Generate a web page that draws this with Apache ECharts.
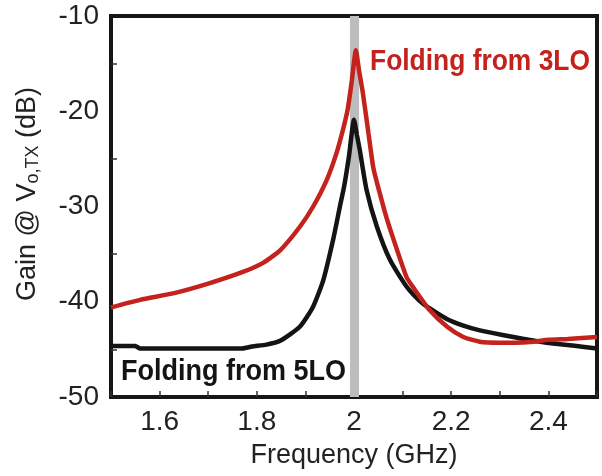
<!DOCTYPE html>
<html>
<head>
<meta charset="utf-8">
<script src="https://cdn.jsdelivr.net/npm/echarts@6/dist/echarts.min.js"></script>
<style>
  html, body { margin: 0; padding: 0; background: #fff; }
  #chart { width: 602px; height: 476px; }
</style>
</head>
<body>
<div id="chart"></div>
<script>
// Folding from 3LO (red): frequency in GHz, gain in dB
const freq3LO = [1.50, 1.56, 1.63, 1.70, 1.77, 1.81, 1.848, 1.889, 1.916, 1.944, 1.964, 1.977, 1.987,
                 1.995, 2.004, 2.010, 2.018, 2.030, 2.040, 2.053, 2.067, 2.081, 2.108, 2.122, 2.156,
                 2.191, 2.225, 2.259, 2.30, 2.33, 2.37, 2.40, 2.44, 2.50];
const gain3LO = [-40.6, -39.8, -39.1, -38.1, -36.9, -36.0, -34.6, -32.1, -30.0, -27.2, -24.4, -22.0, -19.8,
                 -17.0, -13.6, -15.6, -18.0, -22.4, -26.0, -28.6, -31.2, -33.4, -37.4, -38.5, -40.9,
                 -42.6, -43.7, -44.2, -44.3, -44.3, -44.2, -44.0, -43.9, -43.7];

// Folding from 5LO (black)
const freq5LO = [1.50, 1.55, 1.56, 1.77, 1.79, 1.82, 1.848, 1.889, 1.916, 1.937, 1.957, 1.971, 1.980,
                 1.990, 2.000, 2.006, 2.012, 2.026, 2.047, 2.074, 2.108, 2.135, 2.156, 2.191, 2.225,
                 2.259, 2.328, 2.396, 2.45, 2.50];
const gain5LO = [-44.65, -44.65, -44.9, -44.9, -44.7, -44.5, -44.1, -42.6, -40.5, -37.7, -33.5, -30.0, -27.8,
                 -24.6, -20.9, -22.5, -24.1, -28.3, -32.1, -35.6, -38.4, -39.9, -40.7, -41.8, -42.5,
                 -43.0, -43.7, -44.3, -44.6, -44.9];

// Marked carrier frequency
const carrierGHz = 2.0;

const xLabels = ['1.6', '1.8', '2', '2.2', '2.4'];

const FONT = '"Liberation Sans", Arial, Helvetica, sans-serif';
const RED = '#c4221d';
const BLACK = '#141414';
const TEXT = '#222';

function pairs(xs, ys) { return xs.map((x, i) => [x, ys[i]]); }

const chart = echarts.init(document.getElementById('chart'), null, { renderer: 'canvas' });

chart.setOption({
  animation: false,
  backgroundColor: '#fff',
  grid: {
    left: 111, right: 5, top: 16, bottom: 79,
    show: true, borderColor: '#161616', borderWidth: 4, backgroundColor: 'transparent'
  },
  xAxis: {
    type: 'value', min: 1.5, max: 2.5, interval: 0.1,
    name: 'Frequency (GHz)', nameLocation: 'middle', nameGap: 45,
    nameTextStyle: { fontFamily: FONT, fontSize: 27, color: TEXT },
    axisLine: { show: false },
    axisTick: { show: true, inside: true, length: 6, lineStyle: { color: '#333', width: 1.5 } },
    splitLine: { show: false },
    axisLabel: {
      fontFamily: FONT, fontSize: 28, color: TEXT, margin: 11,
      formatter: v => {
        const s = String(Math.round(v * 10) / 10);
        return xLabels.includes(s) ? s : '';
      }
    }
  },
  yAxis: {
    type: 'value', min: -50, max: -10, interval: 10,
    axisLine: { show: false },
    axisTick: { show: false, inside: true },
    minorTick: { show: true, splitNumber: 2, length: 6, lineStyle: { color: '#333', width: 1.5 } },
    splitLine: { show: false },
    minorSplitLine: { show: false },
    axisLabel: { fontFamily: FONT, fontSize: 28, color: TEXT, margin: 12 }
  },
  series: [
    {
      name: 'Folding from 5LO', type: 'line', data: pairs(freq5LO, gain5LO),
      showSymbol: false, smooth: 0.2, z: 3,
      lineStyle: { color: BLACK, width: 4.5 },
      markLine: {
        silent: true, symbol: 'none', label: { show: false }, z: 1,
        lineStyle: { color: '#bdbdbd', width: 9, type: 'solid' },
        data: [{ xAxis: carrierGHz }]
      }
    },
    {
      name: 'Folding from 3LO', type: 'line', data: pairs(freq3LO, gain3LO),
      showSymbol: false, smooth: 0.2, z: 4,
      lineStyle: { color: RED, width: 4.5 }
    }
  ],
  graphic: [
    {
      // vertical axis title with subscript
      type: 'text', x: 28, y: 194, rotation: Math.PI / 2, z: 10,
      style: {
        text: '{a|Gain @ V}{s|o,TX}{a| (dB)}',
        align: 'center', verticalAlign: 'middle',
        rich: {
          a: { fontFamily: FONT, fontSize: 27, fill: TEXT },
          s: { fontFamily: FONT, fontSize: 18, fill: TEXT, padding: [11, 0, 0, 0] }
        }
      }
    },
    {
      type: 'text', x: 370, y: 47, scaleX: 0.88, z: 10,
      style: { text: 'Folding from 3LO', fill: RED, font: 'bold 30px ' + FONT }
    },
    {
      type: 'text', x: 121, y: 357, scaleX: 0.9, z: 10,
      style: { text: 'Folding from 5LO', fill: BLACK, font: 'bold 30px ' + FONT }
    }
  ]
});
</script>
</body>
</html>
